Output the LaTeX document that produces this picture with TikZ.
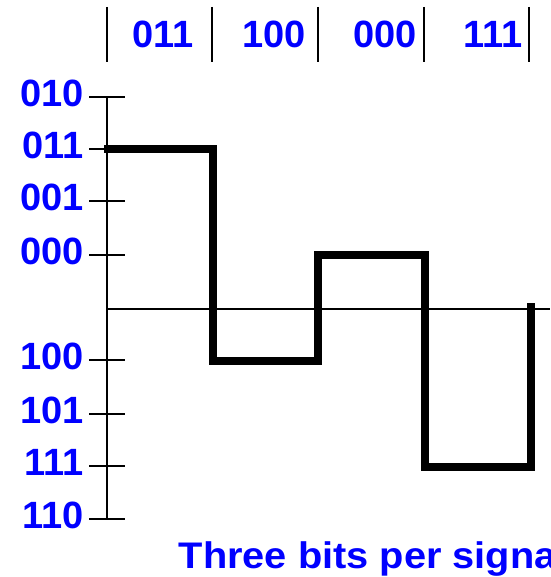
\documentclass[tikz,border=0pt]{standalone}
\usepackage{fontspec}
\setmainfont{Liberation Sans}
\definecolor{labelblue}{RGB}{0,0,255}
\begin{document}
\begin{tikzpicture}[x=1pt,y=-1pt,
  lbl/.style={text=labelblue,font=\fontsize{38}{40}\selectfont\bfseries,inner sep=0pt},
  axisline/.style={line width=2pt,black},
  bar/.style={line width=2.5pt,black},
  signal/.style={line width=8pt,black,line join=miter}]
\useasboundingbox (0,0) rectangle (550,577);
\clip (0,0) rectangle (550,577);

% symbol boundaries along the top
\foreach \x in {107,212,318,424,529}
  \draw[bar] (\x,7) -- (\x,62);
\node[lbl,anchor=base west] (s1) at (132.5,48) {011};
\node[lbl,anchor=base west] (s2) at (242,48) {100};
\node[lbl,anchor=base west] (s3) at (353.5,48) {000};
\node[lbl,anchor=base west] (s4) at (463,48) {111};

% level axis with ticks and level labels
\draw[axisline] (107,97) -- (107,519);
\draw[axisline] (107,309) -- (550,309);
\foreach \y/\t/\n in {97/010/a,149/011/b,201/001/c,255/000/d,360/100/e,414/101/f,466/111/g,519/110/h}{
  \draw[axisline] (89,\y) -- (125,\y);
  \node[lbl,anchor=base east] (lv\n) at (84,\y+9.5) {\t};
}

% eight-level signal
\draw[signal] (104,149) -- (213,149) -- (213,360.5) -- (318,360.5) -- (318,255)
  -- (425,255) -- (425,467) -- (530.5,467) -- (530.5,303);

% caption
\node[lbl,anchor=base west,font=\fontsize{37}{40}\selectfont\bfseries,xscale=1.075] (cap) at (178.5,568) {Three bits per signa};
\end{tikzpicture}
\end{document}
